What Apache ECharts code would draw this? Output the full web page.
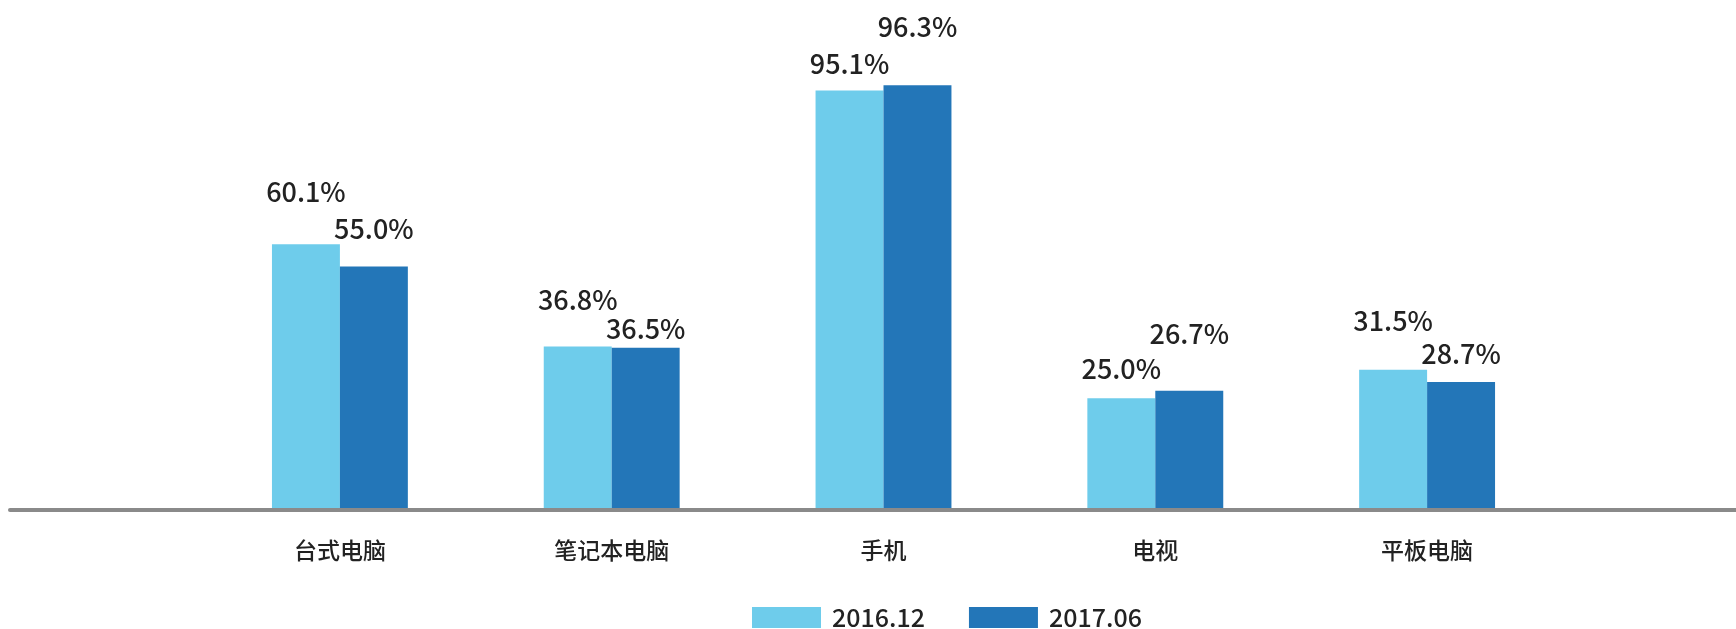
<!DOCTYPE html>
<html>
<head>
<meta charset="utf-8">
<script src="https://cdn.jsdelivr.net/npm/echarts@6/dist/echarts.min.js"></script>
<style>
  html, body { margin: 0; padding: 0; background: #fff; }
  #main { width: 1736px; height: 629px; }
</style>
</head>
<body>
<div id="main"></div>
<script>
const categories = ['台式电脑', '笔记本电脑', '手机', '电视', '平板电脑']
const seriesNames = ['2016.12', '2017.06']
const values2016 = [60.1, 36.8, 95.1, 25.0, 31.5]
const values2017 = [55.0, 36.5, 96.3, 26.7, 28.7]
// label lift above each bar, the source staggers them by hand
const lift2016 = [39, 33, 13, 16, 35]
const lift2017 = [24, 6, 45, 44, 15]

const FONT = '"Noto Sans CJK SC", "Noto Sans", sans-serif'
const colors = ['#6ecceb', '#2376b8']

const myChart = echarts.init(document.getElementById('main'))

function buildData(vals, lifts) {
    return vals.map((v, i) => {
        return { value: v, label: { distance: lifts[i] } }
    })
}

const makeSeries = (name, vals, lifts, color) => {
    return {
        name: name,
        type: 'bar',
        barGap: '0%',
        barCategoryGap: '50%',
        data: buildData(vals, lifts),
        itemStyle: { color: color },
        label: {
            show: true,
            position: 'top',
            formatter: (p) => p.value.toFixed(1) + '%',
            color: '#222',
            fontSize: 27,
            lineHeight: 27,
            fontWeight: 500,
            fontFamily: FONT
        }
    }
}

let option = {
    animation: false,
    backgroundColor: '#fff',
    grid: [
        { left: 204, right: 173, top: 69, bottom: 121 },
        // full width base line
        { left: 10, right: 0, top: 69, bottom: 119 }
    ],
    legend: {
        left: 747,
        top: 600,
        itemWidth: 69,
        itemHeight: 21,
        itemGap: 44,
        icon: 'rect',
        textStyle: { fontSize: 25, lineHeight: 25, fontWeight: 500, color: '#222', fontFamily: FONT, padding: [0, 0, 0, 6] },
        data: seriesNames
    },
    xAxis: [
        {
            type: 'category',
            data: categories,
            axisLine: { show: false },
            axisTick: { show: false },
            axisLabel: {
                margin: 31,
                fontSize: 23,
                fontWeight: 500,
                color: '#222',
                fontFamily: FONT
            }
        },
        {
            type: 'category',
            gridIndex: 1,
            data: [''],
            axisLine: { show: true, lineStyle: { color: '#8a8a8a', width: 4 } },
            axisTick: { show: false },
            axisLabel: { show: false }
        }
    ],
    yAxis: [
        { type: 'value', min: 0, max: 100, show: false },
        { type: 'value', gridIndex: 1, show: false }
    ],
    series: [
        makeSeries(seriesNames[0], values2016, lift2016, colors[0]),
        makeSeries(seriesNames[1], values2017, lift2017, colors[1])
    ]
}

option && myChart.setOption(option)
</script>
</body>
</html>
